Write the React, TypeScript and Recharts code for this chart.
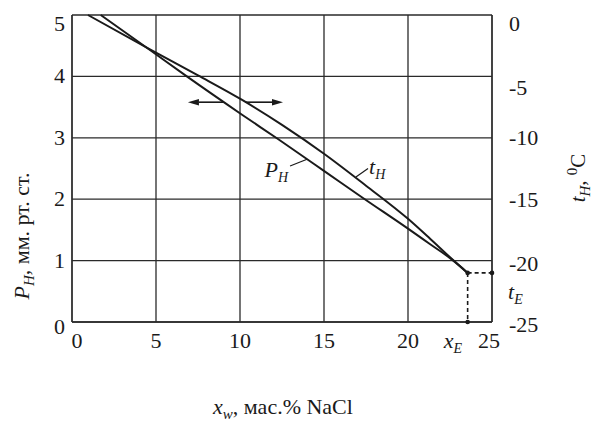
import React from 'react';
import {
  ComposedChart,
  Line,
  XAxis,
  YAxis,
  CartesianGrid,
  ReferenceLine,
  ReferenceDot,
  Label,
} from 'recharts';

// ---- data ----
const xTicks = [0, 5, 10, 15, 20, 25];
const pTicks = [0, 1, 2, 3, 4, 5];
const tTicks = [-25, -20, -15, -10, -5, 0];

// t_H curve (freezing temperature, right axis)
const tX = [0.95, 4.64, 7.5, 10.1, 12.5, 15.0, 17.5, 20.0, 21.3, 22.6, 23.55];
const tVal = [0, -2.8, -4.92, -6.9, -8.95, -11.3, -13.9, -16.6, -18.2, -19.85, -21.0];

// P_H curve (vapour pressure, left axis)
const pX = [1.71, 4.64, 6.73, 10.1, 12.26, 15.06, 17.32, 20.0, 21.3, 22.6, 23.55];
const pVal = [5.0, 4.43, 4.02, 3.38, 2.98, 2.45, 2.02, 1.52, 1.27, 1.02, 0.8];

// eutectic point
const xE = 23.55;
const pE = 0.8;
const tE = -21.0;

// arrow annotation (left axis units)
const arrowP = 3.58;
const arrowLeft = [9.0, 6.9];
const arrowRight = [10.3, 12.56];

const tData = tX.map((x, i) => ({ x, t: tVal[i] }));
const pData = pX.map((x, i) => ({ x, p: pVal[i] }));

const serif = '"Liberation Serif", "DejaVu Serif", "Times New Roman", serif';
const ink = '#1a1a1a';
const fontStyle = { fontFamily: serif };

const LeftTick = (props: any) => {
  const { x, y, payload } = props;
  const v = payload.value;
  const off = v === 5 ? 9 : v === 0 ? 5 : 0;
  return (
    <text x={x + 1} y={y + off + 7} textAnchor="end" style={fontStyle} fontSize={22} fill={ink}>
      {v}
    </text>
  );
};

const rightOff: Record<string, number> = { '0': 9, '-5': 12, '-10': 0, '-15': 1, '-20': 3, '-25': 3 };
const RightTick = (props: any) => {
  const { x, y, payload } = props;
  const v = payload.value;
  const off = rightOff[String(v)] ?? 0;
  return (
    <text x={x + 9} y={y + off + 7} textAnchor="start" style={fontStyle} fontSize={22} fill={ink}>
      {v}
    </text>
  );
};

const XTick = (props: any) => {
  const { x, y, payload } = props;
  const v = payload.value;
  const off = v === 0 ? 5 : v === 25 ? -3 : 0;
  return (
    <text x={x + off} y={y + 18} textAnchor="middle" style={fontStyle} fontSize={22} fill={ink}>
      {v}
    </text>
  );
};

const LeftTitle = () => (
  <g transform="translate(22,236) rotate(-90)">
    <text x={0} y={7} textAnchor="middle" style={fontStyle} fontSize={22} fill={ink}>
      <tspan fontStyle="italic">P</tspan>
      <tspan fontStyle="italic" fontSize={15} dy={5}>H</tspan>
      <tspan dy={-5}>, мм. рт. ст.</tspan>
    </text>
  </g>
);

const RightTitle = () => (
  <g transform="translate(578,178) rotate(-90)">
    <text x={0} y={7} textAnchor="middle" style={fontStyle} fontSize={21} fill={ink}>
      <tspan fontStyle="italic">t</tspan>
      <tspan fontStyle="italic" fontSize={15} dy={5}>H</tspan>
      <tspan dy={-5}>, </tspan>
      <tspan fontSize={15} dy={-8}>0</tspan>
      <tspan dy={8}>C</tspan>
    </text>
  </g>
);

const XTitle = () => (
  <text x={283} y={414} textAnchor="middle" style={fontStyle} fontSize={22} fill={ink}>
    <tspan fontStyle="italic">x</tspan>
    <tspan fontStyle="italic" fontSize={15} dy={5}>w</tspan>
    <tspan dy={-5}>,  мас.% NaCl</tspan>
  </text>
);

const arrowShape = (p: any) => {
  const { x1, y1, x2, y2 } = p;
  const dx = x2 - x1;
  const dy = y2 - y1;
  const len = Math.sqrt(dx * dx + dy * dy) || 1;
  const ux = dx / len;
  const uy = dy / len;
  const hl = 11;
  const hw = 3.2;
  const bx = x2 - ux * hl;
  const by = y2 - uy * hl;
  const pts = `${x2},${y2} ${bx - uy * hw},${by + ux * hw} ${bx + uy * hw},${by - ux * hw}`;
  return (
    <g>
      <line x1={x1} y1={y1} x2={bx} y2={by} stroke={ink} strokeWidth={1.6} />
      <polygon points={pts} fill={ink} />
    </g>
  );
};

const dotShape = (p: any) => <circle cx={p.cx} cy={p.cy} r={2.3} fill={ink} />;

const xELabel = (p: any) => (
  <g>
    <circle cx={p.cx} cy={p.cy} r={2.3} fill={ink} />
    <text x={p.cx - 24} y={p.cy + 26} style={fontStyle} fontSize={22} fill={ink}>
      <tspan fontStyle="italic">x</tspan>
      <tspan fontStyle="italic" fontSize={14} dy={5}>E</tspan>
    </text>
  </g>
);

const tELabel = (p: any) => (
  <g>
    <circle cx={p.cx} cy={p.cy} r={2.3} fill={ink} />
    <text x={p.cx + 16} y={p.cy + 26} style={fontStyle} fontSize={22} fill={ink}>
      <tspan fontStyle="italic">t</tspan>
      <tspan fontStyle="italic" fontSize={14} dy={5}>E</tspan>
    </text>
  </g>
);

const pHLabel = (p: any) => (
  <text x={p.cx - 2} y={p.cy + 11} textAnchor="end" style={fontStyle} fontSize={22} fill={ink}>
    <tspan fontStyle="italic">P</tspan>
    <tspan fontStyle="italic" fontSize={14} dy={5}>H</tspan>
  </text>
);

const tHLabel = (p: any) => (
  <text x={p.cx + 1} y={p.cy + 5} textAnchor="start" style={fontStyle} fontSize={22} fill={ink}>
    <tspan fontStyle="italic">t</tspan>
    <tspan fontStyle="italic" fontSize={14} dy={5}>H</tspan>
  </text>
);

export default function App() {
  return (
    <div style={{ position: 'absolute', left: 0, top: 0, background: '#fff', fontFamily: serif }}>
      <ComposedChart width={602} height={424} margin={{ top: 15, right: 0, bottom: 0, left: 0 }}>
        <CartesianGrid yAxisId="left" stroke="#2a2a2a" strokeWidth={1.3} />
        <XAxis
          dataKey="x"
          type="number"
          domain={[0, 25]}
          ticks={xTicks}
          tickLine={false}
          axisLine={{ stroke: '#2a2a2a', strokeWidth: 1.3 }}
          tick={XTick}
          height={102}
          allowDuplicatedCategory={false}
        >
          <Label content={XTitle} />
        </XAxis>
        <YAxis
          yAxisId="left"
          domain={[0, 5]}
          ticks={pTicks}
          tickLine={false}
          axisLine={{ stroke: '#2a2a2a', strokeWidth: 1.3 }}
          tick={LeftTick}
          width={72}
        >
          <Label content={LeftTitle} />
        </YAxis>
        <YAxis
          yAxisId="right"
          orientation="right"
          domain={[-25, 0]}
          ticks={tTicks}
          tickLine={false}
          axisLine={{ stroke: '#2a2a2a', strokeWidth: 1.3 }}
          tick={RightTick}
          width={110}
        >
          <Label content={RightTitle} />
        </YAxis>

        <Line
          data={tData}
          dataKey="t"
          yAxisId="right"
          type="monotone"
          stroke={ink}
          strokeWidth={2}
          dot={false}
          activeDot={false}
          isAnimationActive={false}
        />
        <Line
          data={pData}
          dataKey="p"
          yAxisId="left"
          type="monotone"
          stroke={ink}
          strokeWidth={2}
          dot={false}
          activeDot={false}
          isAnimationActive={false}
        />

        <ReferenceLine
          yAxisId="left"
          segment={[{ x: xE, y: pE }, { x: xE, y: 0 }]}
          stroke={ink}
          strokeWidth={1.6}
          strokeDasharray="4 3"
        />
        <ReferenceLine
          yAxisId="left"
          segment={[{ x: xE, y: pE }, { x: 25, y: pE }]}
          stroke={ink}
          strokeWidth={1.6}
          strokeDasharray="4 3"
        />
        <ReferenceLine
          yAxisId="left"
          segment={[{ x: arrowLeft[0], y: arrowP }, { x: arrowLeft[1], y: arrowP }]}
          shape={arrowShape}
        />
        <ReferenceLine
          yAxisId="left"
          segment={[{ x: arrowRight[0], y: arrowP }, { x: arrowRight[1], y: arrowP }]}
          shape={arrowShape}
        />
        <ReferenceLine
          yAxisId="left"
          segment={[{ x: 12.98, y: 2.54 }, { x: 13.99, y: 2.65 }]}
          stroke={ink}
          strokeWidth={1.2}
        />
        <ReferenceLine
          yAxisId="right"
          segment={[{ x: 16.9, y: -13.2 }, { x: 17.62, y: -12.5 }]}
          stroke={ink}
          strokeWidth={1.2}
        />
        <ReferenceDot yAxisId="left" x={xE} y={pE} shape={dotShape} />
        <ReferenceDot yAxisId="left" x={xE} y={0} shape={xELabel} />
        <ReferenceDot yAxisId="right" x={25} y={tE} shape={tELabel} />
        <ReferenceDot yAxisId="left" x={12.98} y={2.54} shape={pHLabel} />
        <ReferenceDot yAxisId="right" x={17.62} y={-12.5} shape={tHLabel} />
      </ComposedChart>
    </div>
  );
}
